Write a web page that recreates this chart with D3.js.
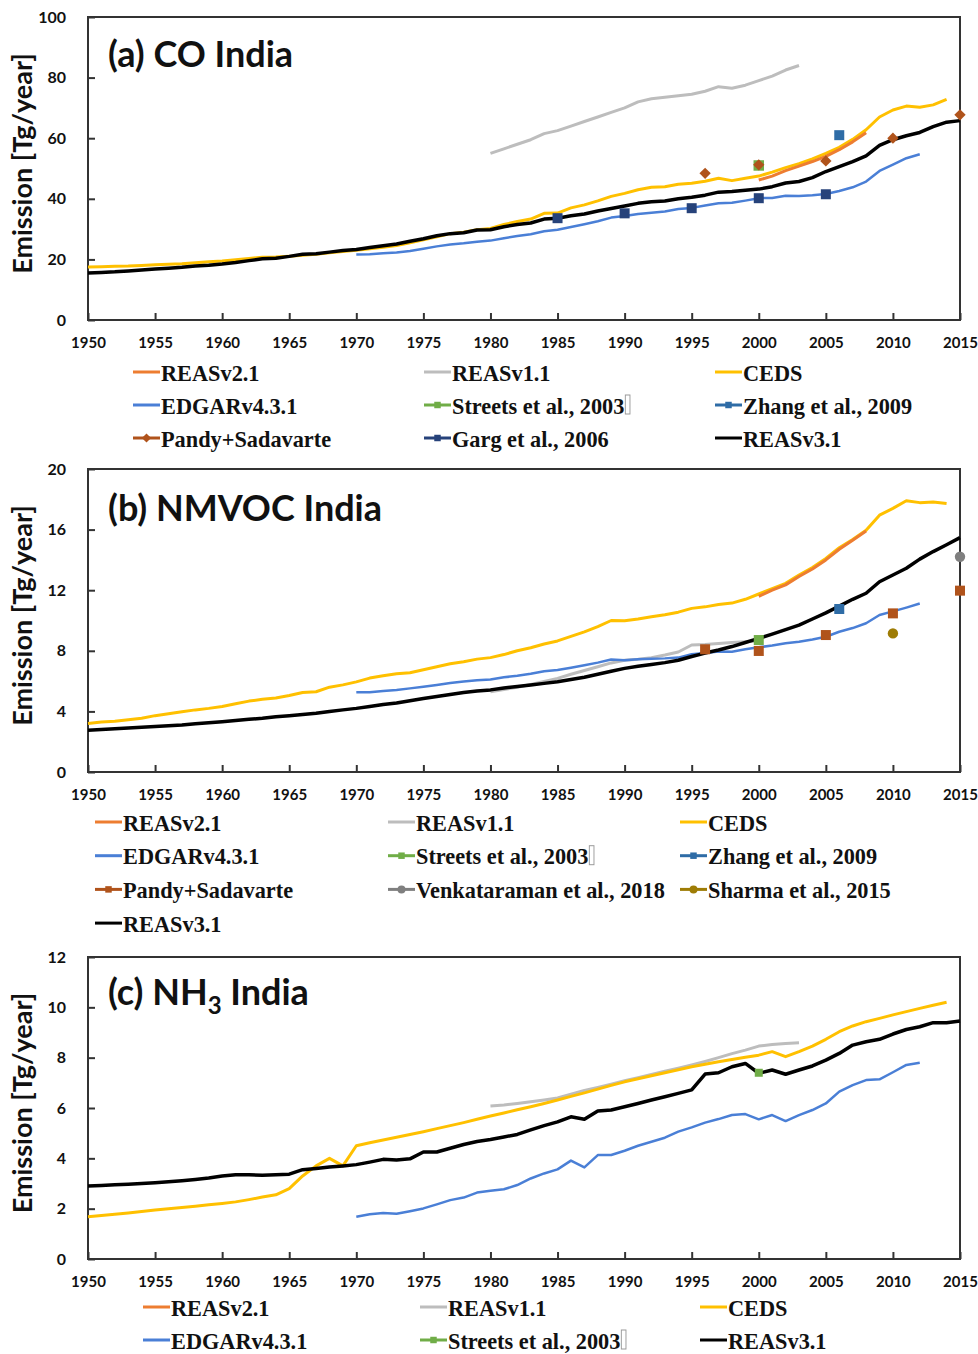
<!DOCTYPE html>
<html><head><meta charset="utf-8">
<script src="https://cdn.jsdelivr.net/npm/d3@7"></script>
<style>body{margin:0;background:#fff} svg{display:block}</style>
</head><body><svg id="c" width="978" height="1354"></svg>
<script>
// ---------------- DATA ----------------
const yearTicks = [1950,1955,1960,1965,1970,1975,1980,1985,1990,1995,2000,2005,2010,2015];
const coTicks = [0,20,40,60,80,100];
const vocTicks = [0,4,8,12,16,20];
const nh3Ticks = [0,2,4,6,8,10,12];

// (a) CO India
const coCEDS = [17.5,17.6,17.7,17.8,18.0,18.2,18.4,18.6,18.9,19.2,
  19.5,19.9,20.3,20.7,20.8,21.0,21.4,21.7,22.2,22.6,
  23.0,23.5,24.0,24.6,25.5,26.5,27.5,28.5,29.0,29.8,
  30.2,31.5,32.5,33.3,35.2,35.3,37.0,38.0,39.3,40.8,
  41.8,43.0,43.8,44.0,44.8,45.1,45.8,46.8,46.0,46.8,
  47.5,48.8,50.3,51.6,53.2,55.0,57.0,59.6,62.8,67.0,
  69.3,70.6,70.2,71.0,72.8]; // 1950-2014
const coREASv3 = [15.5,15.7,15.9,16.2,16.5,16.8,17.1,17.4,17.8,18.1,
  18.5,19.0,19.6,20.2,20.4,21.0,21.7,21.9,22.4,22.9,
  23.3,23.9,24.5,25.1,26.0,26.8,27.8,28.5,28.8,29.7,
  29.8,30.8,31.5,32.0,33.3,33.6,34.4,35.0,36.0,36.8,
  37.6,38.5,39.0,39.3,40.0,40.5,41.2,42.2,42.4,42.8,
  43.2,44.0,45.2,45.7,47.0,49.0,50.6,52.3,54.2,57.6,
  59.5,60.8,61.9,63.8,65.3,65.8]; // 1950-2015
const coEDGAR = [21.6,21.7,22.0,22.3,22.8,23.5,24.3,24.9,25.3,25.8,
  26.2,27.0,27.7,28.3,29.3,29.8,30.7,31.6,32.6,33.8,
  34.3,35.0,35.4,35.8,36.6,37.0,37.8,38.5,38.7,39.4,
  40.2,40.3,41.0,40.9,41.2,41.6,42.6,43.8,45.7,49.2,
  51.3,53.4,54.7]; // 1970-2012
const coREASv1 = [55.0,56.5,58.0,59.5,61.5,62.5,64.0,65.5,67.0,68.5,
  70.0,72.0,73.0,73.5,74.0,74.5,75.5,77.0,76.5,77.5,
  79.0,80.5,82.5,84.0]; // 1980-2003
const coREASv2 = [46.2,47.5,49.3,50.8,52.3,54.0,56.2,58.8,61.8]; // 2000-2008
const coStreets = [[2000,51.0]];
const coZhang = [[2006,61.0]];
const coPandy = [[1996,48.4],[2000,51.2],[2005,52.5],[2010,60.0],[2015,67.7]];
const coGarg = [[1985,33.6],[1990,35.2],[1995,36.9],[2000,40.2],[2005,41.5]];

// (b) NMVOC India
const vocCEDS = [3.2,3.3,3.35,3.45,3.55,3.72,3.85,3.98,4.1,4.2,
  4.32,4.5,4.68,4.8,4.88,5.05,5.25,5.3,5.6,5.75,
  5.95,6.2,6.35,6.48,6.55,6.75,6.95,7.15,7.28,7.45,
  7.55,7.75,8.0,8.2,8.45,8.65,8.95,9.25,9.6,10.0,
  9.98,10.1,10.25,10.38,10.55,10.8,10.9,11.05,11.15,11.4,
  11.75,12.1,12.45,13.0,13.5,14.1,14.8,15.35,15.95,16.95,
  17.4,17.9,17.78,17.82,17.72]; // 1950-2014
const vocREASv3 = [2.75,2.8,2.85,2.9,2.95,3.0,3.05,3.1,3.18,3.25,
  3.32,3.4,3.48,3.55,3.65,3.72,3.8,3.88,4.0,4.1,
  4.2,4.33,4.45,4.55,4.7,4.85,4.98,5.12,5.25,5.35,
  5.42,5.55,5.65,5.75,5.85,5.96,6.1,6.25,6.45,6.65,
  6.84,6.98,7.1,7.22,7.38,7.62,7.85,8.05,8.28,8.55,
  8.82,9.1,9.4,9.7,10.1,10.5,10.95,11.4,11.8,12.56,
  13.0,13.45,14.05,14.55,15.0,15.47]; // 1950-2015
const vocEDGAR = [5.26,5.27,5.35,5.42,5.52,5.63,5.75,5.87,5.97,6.05,
  6.1,6.25,6.35,6.48,6.65,6.73,6.88,7.05,7.22,7.42,
  7.38,7.45,7.48,7.5,7.55,7.78,7.85,7.95,7.94,8.1,
  8.23,8.35,8.5,8.6,8.75,8.93,9.26,9.5,9.82,10.36,
  10.6,10.85,11.12]; // 1970-2012
const vocREASv1 = [5.3,5.45,5.6,5.78,5.98,6.18,6.45,6.7,6.95,7.2,
  7.38,7.45,7.55,7.72,7.92,8.38,8.42,8.48,8.55,8.6,8.65]; // 1980-2000
const vocREASv2 = [11.6,12.0,12.35,12.9,13.4,14.0,14.7,15.3,15.9]; // 2000-2008
const vocStreets = [[2000,8.71]];
const vocZhang = [[2006,10.76]];
const vocPandy = [[1996,8.1],[2000,7.99],[2005,9.04],[2010,10.47],[2015,11.97]];
const vocVenkat = [[2015,14.21]];
const vocSharma = [[2010,9.15]];

// (c) NH3 India
const nh3CEDS = [1.68,1.73,1.78,1.83,1.89,1.95,2.0,2.05,2.1,2.16,
  2.21,2.27,2.36,2.46,2.55,2.8,3.3,3.7,4.0,3.7,
  4.5,4.62,4.73,4.84,4.95,5.06,5.18,5.3,5.42,5.55,
  5.68,5.8,5.93,6.05,6.18,6.32,6.46,6.6,6.75,6.9,
  7.04,7.16,7.28,7.4,7.52,7.64,7.74,7.84,7.93,8.02,
  8.1,8.24,8.04,8.24,8.46,8.73,9.03,9.26,9.43,9.56,
  9.7,9.83,9.96,10.08,10.2]; // 1950-2014
const nh3REASv3 = [2.9,2.92,2.95,2.97,3.0,3.03,3.07,3.11,3.16,3.22,
  3.3,3.35,3.35,3.33,3.35,3.37,3.55,3.6,3.66,3.7,
  3.75,3.85,3.96,3.93,3.98,4.25,4.25,4.4,4.55,4.67,
  4.75,4.85,4.95,5.13,5.3,5.45,5.65,5.55,5.88,5.92,
  6.05,6.18,6.32,6.45,6.58,6.72,7.35,7.4,7.64,7.77,
  7.38,7.51,7.34,7.51,7.67,7.9,8.17,8.5,8.63,8.73,
  8.94,9.12,9.23,9.39,9.39,9.46]; // 1950-2015
const nh3EDGAR = [1.68,1.78,1.83,1.8,1.9,2.01,2.17,2.34,2.44,2.64,
  2.71,2.77,2.94,3.2,3.4,3.56,3.91,3.64,4.13,4.13,
  4.3,4.5,4.66,4.82,5.06,5.23,5.42,5.56,5.72,5.76,
  5.55,5.72,5.48,5.72,5.92,6.18,6.65,6.91,7.11,7.14,
  7.42,7.71,7.8]; // 1970-2012
const nh3REASv1 = [6.08,6.12,6.18,6.25,6.32,6.4,6.55,6.7,6.82,6.95,
  7.08,7.2,7.33,7.46,7.58,7.71,7.85,8.0,8.16,8.3,
  8.46,8.52,8.56,8.59]; // 1980-2003
const nh3Streets = [[2000,7.4]];

// ---------------- DRAWING ----------------
const C = {
  reas2:'#ed7d31', reas1:'#bdbdbd', ceds:'#ffc000', edgar:'#4a7fd6',
  streets:'#70ad47', zhang:'#2e6ca6', pandy:'#b0531b', garg:'#26427a',
  reas3:'#000000', venkat:'#7f7f7f', sharma:'#9e7c05'
};
const ser = (start, vals) => vals.map((v,i)=>[start+i, v]);
const svg = d3.select('#c');
const x = d3.scaleLinear().domain([1950,2015]).range([88,960]);
const FONT = 'Lato, "Open Sans", sans-serif';

function panel(p){
  const y = d3.scaleLinear().domain([0, p.yTicks[p.yTicks.length-1]]).range([p.bottom, p.top]);
  const g = svg.append('g');
  const line = d3.line().x(d=>x(d[0])).y(d=>y(d[1]));

  // axes (inward ticks)
  const xa = g.append('g').attr('transform',`translate(0,${p.bottom})`)
    .call(d3.axisBottom(x).tickValues(yearTicks).tickFormat(d3.format('d'))
      .tickSizeInner(-7).tickSizeOuter(0).tickPadding(17));
  const ya = g.append('g').attr('transform','translate(88,0)')
    .call(d3.axisLeft(y).tickValues(p.yTicks).tickSizeInner(-7).tickSizeOuter(0).tickPadding(22));
  [xa,ya].forEach(a=>{
    a.select('.domain').remove();
    a.selectAll('line').attr('stroke','#333').attr('stroke-width',2);
    a.selectAll('text').attr('font-family',FONT).attr('font-weight',700)
      .attr('font-size',15).attr('fill','#111');
  });
  ya.selectAll('text').attr('font-size',16);

  // frame
  g.append('rect').attr('x',88).attr('y',p.top).attr('width',872).attr('height',p.bottom-p.top)
    .attr('fill','none').attr('stroke','#333').attr('stroke-width',2);

  // lines
  p.lines.forEach(l=>{
    g.append('path').datum(l.data).attr('d',line).attr('fill','none')
      .attr('stroke',l.color).attr('stroke-width',l.w).attr('stroke-linejoin','round');
  });
  // markers
  p.points.forEach(m=>{
    const sym = d3.symbol().type(m.shape==='circle'?d3.symbolCircle:d3.symbolSquare).size(m.size);
    g.selectAll(null).data(m.data).enter().append('path')
      .attr('d',sym())
      .attr('transform',d=>`translate(${x(d[0])},${y(d[1])})${m.shape==='diamond'?' rotate(45)':''}`)
      .attr('fill',m.color);
  });

  // title
  const t = g.append('text').attr('x',108).attr('y',p.titleY)
    .attr('font-family',FONT).attr('font-weight',700).attr('font-size',36).attr('fill','#111');
  p.title(t);

  // y label
  g.append('text').attr('transform',`translate(32,${(p.top+p.bottom)/2-5}) rotate(-90)`)
    .attr('text-anchor','middle').attr('font-family',FONT).attr('font-weight',700)
    .attr('font-size',27).attr('fill','#111').text('Emission [Tg/year]');

  // legend
  p.legend.forEach((it,i)=>{
    const col = i % 3, row = Math.floor(i/3);
    const lx = p.legCols[col], ly = p.legY0 + row*p.legDy;
    const lg = g.append('g').attr('transform',`translate(${lx},${ly})`);
    lg.append('line').attr('x1',0).attr('x2',27).attr('y1',0).attr('y2',0)
      .attr('stroke',it.color).attr('stroke-width',3);
    if(it.shape){
      const sym = d3.symbol().type(it.shape==='circle'?d3.symbolCircle:d3.symbolSquare).size(it.shape==='circle'?50:42);
      lg.append('path').attr('d',sym()).attr('fill',it.color)
        .attr('transform',`translate(13.5,0)${it.shape==='diamond'?' rotate(45)':''}`);
    }
    const tg = lg.append('g').attr('transform','translate(28,0) scale(0.93,1)');
    const tx = tg.append('text').attr('x',0).attr('y',0).attr('dy','0.36em')
      .attr('font-family','"Liberation Serif","Times New Roman",serif').attr('font-weight',700)
      .attr('font-size',24).attr('fill','#111').text(it.name);
    if(it.box){
      const w = tx.node().getComputedTextLength();
      tg.append('rect').attr('x',w+1).attr('y',-10).attr('width',5).attr('height',19)
        .attr('fill','none').attr('stroke','#999').attr('stroke-width',1);
    }
  });
}

const L = {
  reas2:{name:'REASv2.1',color:C.reas2},
  reas1:{name:'REASv1.1',color:C.reas1},
  ceds:{name:'CEDS',color:C.ceds},
  edgar:{name:'EDGARv4.3.1',color:C.edgar},
  streets:{name:'Streets et al., 2003',color:C.streets,shape:'square',box:true},
  zhang:{name:'Zhang et al., 2009',color:C.zhang,shape:'square'},
  reas3:{name:'REASv3.1',color:C.reas3}
};

panel({
  top:17, bottom:320, yTicks:coTicks, titleY:67,
  title:t=>t.text('(a) CO India'),
  lines:[
    {data:ser(1980,coREASv1),color:C.reas1,w:3},
    {data:ser(1970,coEDGAR),color:C.edgar,w:2.5},
    {data:ser(1950,coCEDS),color:C.ceds,w:3},
    {data:ser(2000,coREASv2),color:C.reas2,w:3},
    {data:ser(1950,coREASv3),color:C.reas3,w:3.5}
  ],
  points:[
    {data:coStreets,color:C.streets,shape:'square',size:110},
    {data:coGarg,color:C.garg,shape:'square',size:100},
    {data:coZhang,color:C.zhang,shape:'square',size:100},
    {data:coPandy,color:C.pandy,shape:'diamond',size:64}
  ],
  legY0:372, legDy:33, legCols:[133,424,715],
  legend:[L.reas2,L.reas1,L.ceds,L.edgar,L.streets,L.zhang,
    {name:'Pandy+Sadavarte',color:C.pandy,shape:'diamond'},
    {name:'Garg et al., 2006',color:C.garg,shape:'square'},
    L.reas3]
});

panel({
  top:469, bottom:772, yTicks:vocTicks, titleY:521,
  title:t=>t.text('(b) NMVOC India'),
  lines:[
    {data:ser(1980,vocREASv1),color:C.reas1,w:3},
    {data:ser(1970,vocEDGAR),color:C.edgar,w:2.5},
    {data:ser(1950,vocCEDS),color:C.ceds,w:3},
    {data:ser(2000,vocREASv2),color:C.reas2,w:3},
    {data:ser(1950,vocREASv3),color:C.reas3,w:3.5}
  ],
  points:[
    {data:vocStreets,color:C.streets,shape:'square',size:100},
    {data:vocZhang,color:C.zhang,shape:'square',size:100},
    {data:vocPandy,color:C.pandy,shape:'square',size:100},
    {data:vocVenkat,color:C.venkat,shape:'circle',size:85},
    {data:vocSharma,color:C.sharma,shape:'circle',size:85}
  ],
  legY0:822, legDy:33.7, legCols:[95,388,680],
  legend:[L.reas2,L.reas1,L.ceds,L.edgar,L.streets,L.zhang,
    {name:'Pandy+Sadavarte',color:C.pandy,shape:'square'},
    {name:'Venkataraman et al., 2018',color:C.venkat,shape:'circle'},
    {name:'Sharma et al., 2015',color:C.sharma,shape:'circle'},
    L.reas3]
});

panel({
  top:957, bottom:1259, yTicks:nh3Ticks, titleY:1005,
  title:t=>{ t.append('tspan').text('(c) NH');
    t.append('tspan').attr('font-size',24).attr('dy',9).text('3');
    t.append('tspan').attr('dy',-9).text(' India'); },
  lines:[
    {data:ser(1980,nh3REASv1),color:C.reas1,w:3},
    {data:ser(1970,nh3EDGAR),color:C.edgar,w:2.5},
    {data:ser(1950,nh3CEDS),color:C.ceds,w:3},
    {data:ser(1950,nh3REASv3),color:C.reas3,w:3.5}
  ],
  points:[
    {data:nh3Streets,color:C.streets,shape:'square',size:64}
  ],
  legY0:1307, legDy:33, legCols:[143,420,700],
  legend:[L.reas2,L.reas1,L.ceds,L.edgar,L.streets,L.reas3]
});
</script></body></html>
